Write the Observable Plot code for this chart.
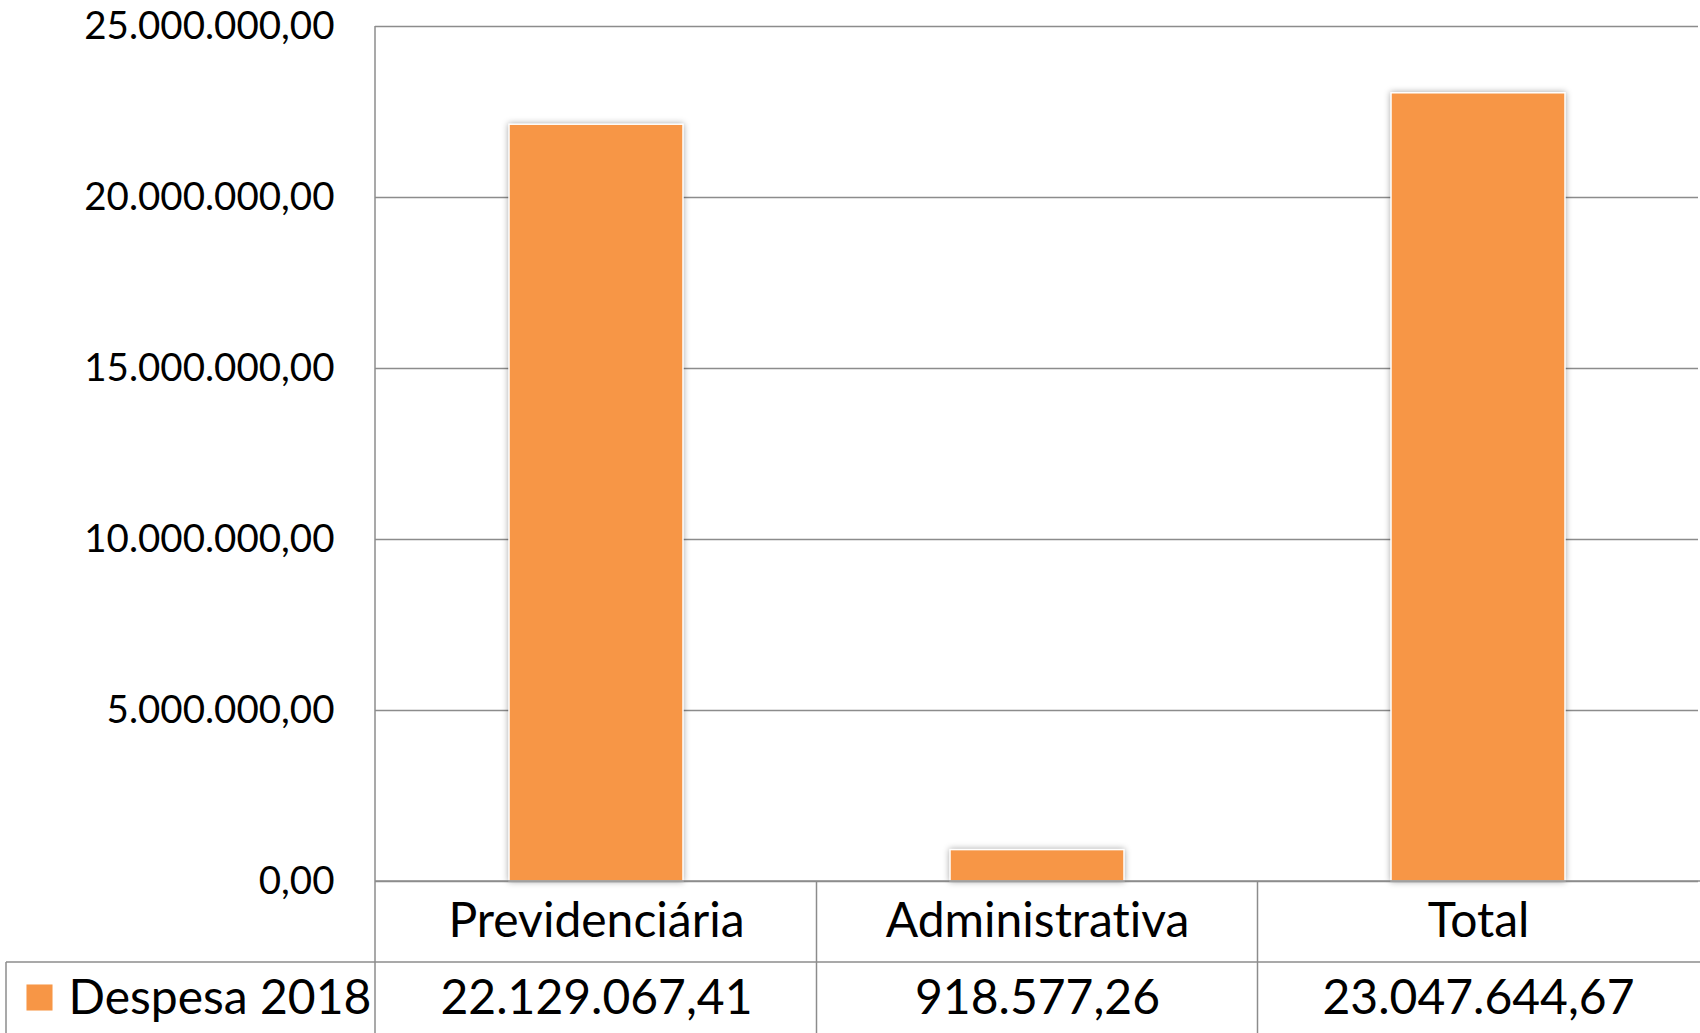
<!DOCTYPE html>
<html>
<head>
<meta charset="utf-8">
<script src="https://cdn.jsdelivr.net/npm/d3@7"></script>
<script src="https://cdn.jsdelivr.net/npm/@observablehq/plot@0.6"></script>
<style>
  html, body { margin: 0; padding: 0; background: #fff; }
  #chart svg { display: block; }
  #chart svg text { font-variant-ligatures: none; font-feature-settings: "liga" 0, "clig" 0; }
</style>
</head>
<body>
<div id="chart"></div>
<script>
const categories = ["Previdenciária", "Administrativa", "Total"];
const values = [22129067.41, 918577.26, 23047644.67];
const seriesName = "Despesa 2018";
const yTicks = [0, 5000000, 10000000, 15000000, 20000000, 25000000];

const ptBR = d3.formatLocale({decimal: ",", thousands: ".", grouping: [3], currency: ["R$", ""]});
const fmt = ptBR.format(",.2f");

const data = categories.map((c, i) => ({category: c, value: values[i]}));

const W = 1700, H = 1033;
const mL = 375, mR = 2, mT = 26, mB = 152;
const orange = "#F79646";
const lineColor = "#8c8c8c";
const font = "Lato, 'Open Sans', sans-serif";

const plot = Plot.plot({
  width: W,
  height: H,
  marginLeft: mL,
  marginRight: mR,
  marginTop: mT,
  marginBottom: mB,
  style: {fontFamily: font, color: "#000", background: "#fff", overflow: "visible"},
  x: {domain: categories, paddingInner: 0.606, paddingOuter: 0.303, axis: null},
  y: {domain: [0, 25000000], axis: null},
  marks: [
    Plot.gridY(yTicks, {stroke: lineColor, strokeOpacity: 1, strokeWidth: 1.5}),
    Plot.axisY(yTicks, {tickSize: 0, tickPadding: 41, tickFormat: fmt, fontSize: 38.5, fill: "#000", label: null}),
    Plot.barY(data, {x: "category", y: "value", fill: orange, stroke: "#fff", strokeWidth: 1.5}),
    Plot.text(data, {x: "category", text: "category", frameAnchor: "bottom", dy: 40, lineAnchor: "middle", fontSize: 48, fill: "#000"}),
    Plot.text(data, {x: "category", text: d => fmt(d.value), frameAnchor: "bottom", dy: 117, lineAnchor: "middle", fontSize: 48, fill: "#000"}),
    Plot.text([seriesName], {frameAnchor: "bottom-left", dx: 68 - mL, dy: 117, textAnchor: "start", lineAnchor: "middle", fontSize: 48, fill: "#000"}),
    Plot.dot([0], {frameAnchor: "bottom-left", dx: 39 - mL, dy: 116, symbol: "square", r: 14.7, fill: orange, stroke: "none"})
  ]
});

document.getElementById("chart").appendChild(plot);

// table grid lines, positioned from the plot's own scales
const svg = d3.select(plot);
const xs = plot.scale("x");
const ys = plot.scale("y");
const step = xs.step;
const y0 = ys.apply(0);
const yTop = ys.apply(25000000);
const row1 = y0 + 81;
const bounds = categories.map(c => xs.apply(c) - (step - xs.bandwidth) / 2);
const g = svg.append("g").attr("stroke", lineColor).attr("stroke-width", 1.5).attr("fill", "none");
// left frame
g.append("line").attr("x1", mL).attr("x2", mL).attr("y1", yTop).attr("y2", H);
// inner column lines
bounds.slice(1).forEach(x => g.append("line").attr("x1", x).attr("x2", x).attr("y1", y0).attr("y2", H));
// second row line
g.append("line").attr("x1", 6).attr("x2", W).attr("y1", row1).attr("y2", row1);
// first row line
g.append("line").attr("x1", mL).attr("x2", W).attr("y1", y0).attr("y2", y0);
// left border of legend cell
g.append("line").attr("x1", 6).attr("x2", 6).attr("y1", row1).attr("y2", H);

// subtle shadow on bars
svg.selectAll("g[aria-label=bar]").style("filter", "drop-shadow(0px 0px 3px rgba(0,0,0,0.35))");
</script>
</body>
</html>
